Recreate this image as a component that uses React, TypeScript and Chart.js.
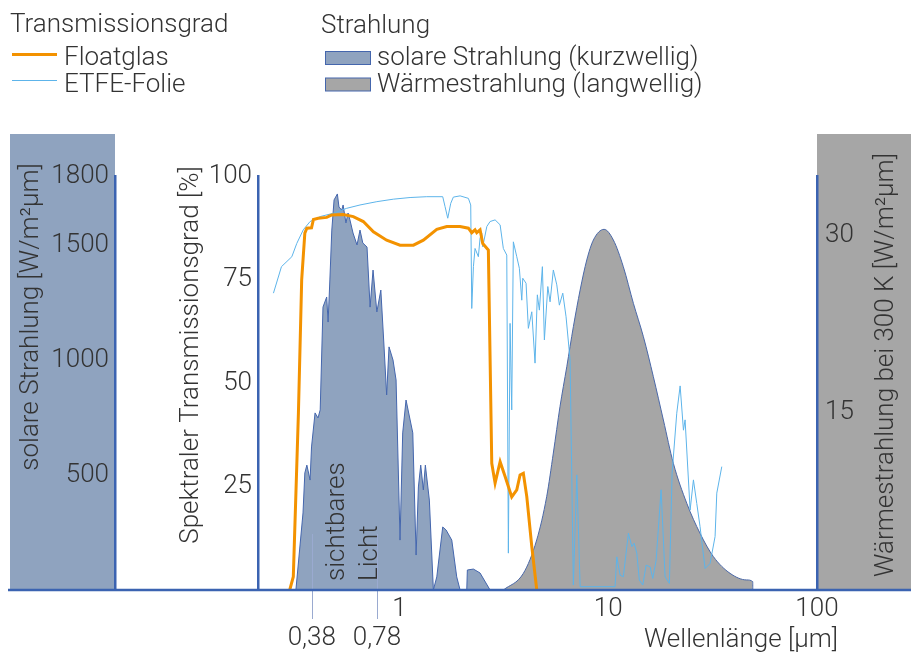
import { useEffect, useRef } from 'react';
import { Chart, registerables } from 'chart.js';

Chart.register(...registerables);

// Wellenlänge in µm, spektraler Transmissionsgrad in %
const floatglasWl = [0.298, 0.310, 0.328, 0.340, 0.352, 0.360, 0.379, 0.387, 0.408, 0.448, 0.474, 0.538, 0.601, 0.671, 0.750, 0.868, 1.006, 1.166, 1.301, 1.509, 1.684, 1.951, 2.138, 2.219, 2.301, 2.345, 2.432, 2.505, 2.665, 2.767, 2.871, 3.034, 3.206, 3.449, 3.646, 3.781, 3.920, 4.073, 4.303, 4.546];
const floatglasT = [0, 3.2, 42.8, 74.9, 86.2, 87.4, 87.5, 89.5, 89.8, 90.0, 90.6, 90.7, 90.2, 89.0, 86.5, 84.5, 83.3, 83.3, 84.5, 87.1, 87.8, 87.8, 87.4, 86.3, 87.0, 86.3, 87.0, 83.7, 82.1, 30.6, 25.8, 31.0, 27.4, 22.5, 24.2, 27.8, 28.2, 22.5, 10.5, 0];

const etfeWl = [0.249, 0.272, 0.305, 0.322, 0.346, 0.373, 0.417, 0.482, 0.559, 0.647, 0.779, 0.934, 1.124, 1.351, 1.611, 1.653, 1.703, 1.760, 1.811, 1.951, 2.138, 2.194, 2.219, 2.260, 2.301, 2.387, 2.432, 2.478, 2.505, 2.620, 2.716, 2.871, 3.034, 3.144, 3.265, 3.323, 3.386, 3.449, 3.511, 3.646, 3.752, 3.853, 3.895, 4.039, 4.143, 4.303, 4.460, 4.575, 4.678, 4.836, 4.944, 5.134, 5.264, 5.457, 5.670, 5.833, 6.056, 6.279, 6.563, 6.807, 7.070, 7.334, 10.78, 10.99, 11.40, 11.81, 12.49, 12.97, 13.30, 13.70, 14.09, 14.64, 15.18, 15.87, 16.34, 16.96, 17.91, 18.72, 19.63, 20.22, 21.29, 22.10, 22.92, 23.34, 24.67, 25.59, 26.55, 27.53, 29.10, 30.74, 32.49, 33.11, 34.99];
const etfeT = [71.7, 78.1, 80.5, 83.7, 87.0, 89.0, 90.2, 91.0, 92.2, 93.0, 93.8, 94.4, 94.8, 95.0, 95.0, 92.6, 89.8, 93.4, 94.9, 95.2, 94.6, 93.0, 68.0, 78.1, 82.5, 80.5, 85.0, 86.2, 82.9, 87.8, 89.0, 89.4, 88.2, 82.5, 80.9, 8.9, 64.4, 43.5, 84.1, 80.5, 77.7, 70.0, 75.3, 74.1, 63.2, 67.2, 54.8, 71.3, 67.6, 78.1, 60.4, 73.3, 69.6, 77.3, 73.7, 68.8, 71.7, 66.0, 55.6, 1.2, 27.8, 0.8, 0.8, 8.0, 3.6, 3.2, 13.7, 10.5, 11.3, 8.9, 2.4, 1.2, 6.0, 5.6, 2.8, 7.2, 24.2, 3.2, 1.6, 28.2, 42.7, 49.3, 38.6, 41.1, 19.3, 26.6, 20.9, 15.3, 5.2, 6.4, 12.9, 23.4, 29.8];

// solare Strahlung in W/(m²µm)
const solarWl = [0.319, 0.345, 0.352, 0.360, 0.373, 0.379, 0.394, 0.407, 0.417, 0.430, 0.448, 0.455, 0.464, 0.474, 0.486, 0.504, 0.513, 0.529, 0.537, 0.554, 0.567, 0.579, 0.599, 0.626, 0.647, 0.667, 0.699, 0.723, 0.747, 0.779, 0.814, 0.844, 0.868, 0.891, 0.931, 0.963, 1.006, 1.036, 1.075, 1.158, 1.201, 1.232, 1.264, 1.301, 1.330, 1.390, 1.453, 1.509, 1.611, 1.672, 1.780, 1.880, 1.951, 2.100, 2.114, 2.260, 2.432, 2.716];
const solarS = [0, 335, 509, 543, 478, 622, 770, 748, 783, 1230, 1274, 1165, 1348, 1565, 1696, 1722, 1665, 1652, 1674, 1596, 1639, 1609, 1552, 1500, 1565, 1509, 1491, 1230, 1391, 1209, 1304, 1052, 848, 1057, 1000, 913, 217, 683, 826, 683, 152, 448, 543, 435, 543, 391, 0, 57, 274, 261, 217, 57, 0, 0, 87, 91, 74, 0];

// Wärmestrahlung bei 300 K in W/(m²µm)
const waermeWl = [3.146, 3.921, 4.542, 5.071, 5.457, 5.873, 6.330, 6.807, 7.334, 7.891, 8.489, 9.551, 10.58, 11.81, 13.20, 14.74, 16.45, 18.37, 20.51, 23.78, 27.53, 31.90, 38.33, 46.09, 49.24, 49.25];
const waermeW = [0, 1.41, 4.23, 7.89, 11.58, 15.5, 18.88, 22.26, 25.36, 27.9, 29.59, 30.49, 29.59, 27.33, 24.23, 21.41, 18.03, 14.37, 10.71, 7.33, 4.79, 2.82, 1.41, 0.85, 0.70, 0];

const xTickValues = [0.38, 0.78, 1, 10, 100];
const xTickLabels: (string | string[])[] = [['', '0,38'], ['', '0,78'], '1', '10', '100'];
const visibleBounds = [0.38, 0.78];
const transTicks = [25, 50, 75, 100];
const solarTicks = [500, 1000, 1500, 1800];
const waermeTicks = [15, 30];

const AXIS = '#3b63b1';
const TEXT = '#333333';
const FLOAT = '#f39200';
const ETFE = '#5db4ea';
const SOLAR_FILL = '#8fa3bf';
const SOLAR_LINE = '#4466ad';
const WAERME_FILL = '#a6a6a6';
const WAERME_LINE = '#4a68a8';
const MARKER = '#9aaad0';
const FAMILY = 'Roboto';
const SIZE = 26;
const CSS_FONT = `300 ${SIZE}px ${FAMILY}`;

const tickFont = { family: FAMILY, size: SIZE, weight: '300' as any, lineHeight: 1.12 };
const plainNumber = (v: any) => String(v);

const pts = (xs: number[], ys: number[]) => xs.map((x, i) => ({ x, y: ys[i] }));

function rotatedText(ctx: CanvasRenderingContext2D, str: string, x: number, y: number, align: CanvasTextAlign) {
  ctx.save();
  ctx.translate(x, y);
  ctx.rotate(-Math.PI / 2);
  ctx.textAlign = align;
  ctx.textBaseline = 'alphabetic';
  ctx.fillText(str, 0, 0);
  ctx.restore();
}

const decor = {
  id: 'decor',
  beforeDraw(chart: any) {
    const { ctx, chartArea, scales } = chart;
    const top = chartArea.top - 42;
    ctx.save();
    const s = scales.ySolar;
    ctx.fillStyle = SOLAR_FILL;
    ctx.fillRect(s.left, top, s.right - s.left, chartArea.bottom - top);
    const w = scales.yW;
    ctx.fillStyle = WAERME_FILL;
    ctx.fillRect(w.left, top, w.right - w.left, chartArea.bottom - top);
    ctx.restore();
  },
  afterDatasetsDraw(chart: any) {
    const { ctx, chartArea, scales } = chart;
    const bottom = chartArea.bottom;
    ctx.save();
    // Grenzen des sichtbaren Lichts
    ctx.strokeStyle = MARKER;
    ctx.lineWidth = 1;
    visibleBounds.forEach((v) => {
      const px = Math.round(scales.x.getPixelForValue(v)) + 0.5;
      ctx.beginPath();
      ctx.moveTo(px, bottom - 56);
      ctx.lineTo(px, bottom + 29);
      ctx.stroke();
    });
    // durchgehende Grundlinie
    ctx.strokeStyle = AXIS;
    ctx.lineWidth = 2.5;
    ctx.beginPath();
    ctx.moveTo(8, bottom);
    ctx.lineTo(chart.width, bottom);
    ctx.stroke();

    ctx.fillStyle = TEXT;
    ctx.font = CSS_FONT;
    rotatedText(ctx, 'sichtbares', 343.5, 581, 'left');
    rotatedText(ctx, 'Licht', 376.5, 581, 'left');
    ctx.restore();
  },
  afterDraw(chart: any) {
    const { ctx } = chart;
    const ds = chart.data.datasets;
    ctx.save();
    ctx.font = CSS_FONT;
    ctx.fillStyle = TEXT;
    ctx.textAlign = 'left';
    ctx.textBaseline = 'alphabetic';

    // Legende: Transmissionsgrad
    ctx.fillText('Transmissionsgrad', 10, 31.5);
    ctx.strokeStyle = FLOAT;
    ctx.lineWidth = 3;
    ctx.beginPath();
    ctx.moveTo(12, 54.5);
    ctx.lineTo(57, 54.5);
    ctx.stroke();
    ctx.fillText(ds[0].label, 64, 65);
    ctx.strokeStyle = ETFE;
    ctx.lineWidth = 1;
    ctx.beginPath();
    ctx.moveTo(12, 80.5);
    ctx.lineTo(57, 80.5);
    ctx.stroke();
    ctx.fillText(ds[1].label, 64, 92);

    // Legende: Strahlung
    ctx.fillText('Strahlung', 321, 33);
    ctx.lineWidth = 1;
    ctx.strokeStyle = SOLAR_LINE;
    ctx.fillStyle = SOLAR_FILL;
    ctx.fillRect(325.5, 51.5, 45, 13);
    ctx.strokeRect(325.5, 51.5, 45, 13);
    ctx.fillStyle = WAERME_FILL;
    ctx.fillRect(325.5, 78, 45, 13);
    ctx.strokeRect(325.5, 78, 45, 13);
    ctx.fillStyle = TEXT;
    ctx.fillText(ds[2].label, 377, 65);
    ctx.fillText(ds[3].label, 377, 92);

    // Achsentitel
    rotatedText(ctx, 'solare Strahlung [W/m²µm]', 38, 317, 'center');
    rotatedText(ctx, 'Spektraler Transmissionsgrad [%]', 198, 355, 'center');
    rotatedText(ctx, 'Wärmestrahlung bei 300 K [W/m²µm]', 893, 365, 'center');
    ctx.textAlign = 'right';
    ctx.fillText('Wellenlänge [µm]', 838, 647);
    ctx.restore();
  },
};

export default function App() {
  const ref = useRef<HTMLCanvasElement | null>(null);

  useEffect(() => {
    if (!ref.current) return;
    const chart = new Chart(ref.current, {
      type: 'line',
      data: {
        datasets: [
          {
            label: 'Floatglas',
            data: pts(floatglasWl, floatglasT),
            yAxisID: 'yT',
            borderColor: FLOAT,
            borderWidth: 3,
            pointRadius: 0,
            fill: false,
            tension: 0,
          },
          {
            label: 'ETFE-Folie',
            data: pts(etfeWl, etfeT),
            yAxisID: 'yT',
            borderColor: ETFE,
            borderWidth: 1,
            pointRadius: 0,
            fill: false,
            tension: 0,
          },
          {
            label: 'solare Strahlung (kurzwellig)',
            data: pts(solarWl, solarS),
            yAxisID: 'ySolar',
            borderColor: SOLAR_LINE,
            backgroundColor: SOLAR_FILL,
            borderWidth: 1,
            pointRadius: 0,
            fill: 'origin',
            tension: 0,
          },
          {
            label: 'Wärmestrahlung (langwellig)',
            data: pts(waermeWl, waermeW),
            yAxisID: 'yW',
            borderColor: WAERME_LINE,
            backgroundColor: WAERME_FILL,
            borderWidth: 1,
            pointRadius: 0,
            fill: 'origin',
            cubicInterpolationMode: 'monotone',
          },
        ],
      },
      options: {
        responsive: false,
        animation: false,
        devicePixelRatio: 1,
        events: [],
        layout: { padding: { left: 10, top: 176, right: 0, bottom: 0 } },
        plugins: { legend: { display: false }, tooltip: { enabled: false } },
        scales: {
          x: {
            type: 'logarithmic',
            min: 0.21,
            max: 100,
            position: 'bottom',
            afterBuildTicks: (s: any) => {
              s.ticks = xTickValues.map((v) => ({ value: v }));
            },
            afterFit: (s: any) => {
              s.height = 65;
            },
            ticks: {
              autoSkip: false,
              maxRotation: 0,
              minRotation: 0,
              padding: 4.5,
              color: TEXT,
              font: tickFont,
              callback: (_v: any, i: number) => xTickLabels[i],
            },
            grid: { display: false, drawTicks: false },
            border: { display: false },
          },
          ySolar: {
            type: 'linear',
            position: 'left',
            weight: 1,
            min: 0,
            max: 1800,
            afterBuildTicks: (s: any) => {
              s.ticks = solarTicks.map((v) => ({ value: v }));
            },
            afterFit: (s: any) => {
              s.width = 105;
            },
            ticks: { padding: 6, color: TEXT, font: tickFont, callback: plainNumber },
            grid: { display: false, drawTicks: false },
            border: { display: true, color: AXIS, width: 2.5 },
          },
          yT: {
            type: 'linear',
            position: 'left',
            weight: 0,
            min: 0,
            max: 100,
            afterBuildTicks: (s: any) => {
              s.ticks = transTicks.map((v) => ({ value: v }));
            },
            afterFit: (s: any) => {
              s.width = 143;
            },
            ticks: { padding: 6, color: TEXT, font: tickFont, callback: plainNumber },
            grid: { display: false, drawTicks: false },
            border: { display: true, color: AXIS, width: 2.5 },
          },
          yW: {
            type: 'linear',
            position: 'right',
            min: 0,
            max: 35,
            afterBuildTicks: (s: any) => {
              s.ticks = waermeTicks.map((v) => ({ value: v }));
            },
            afterFit: (s: any) => {
              s.width = 94;
            },
            ticks: { padding: 8, color: TEXT, font: tickFont, callback: plainNumber },
            grid: { display: false, drawTicks: false },
            border: { display: true, color: AXIS, width: 2.5 },
          },
        },
      } as any,
      plugins: [decor],
    });
    return () => chart.destroy();
  }, []);

  return (
    <div style={{ position: 'absolute', left: 0, top: 0, width: 911, height: 655, background: '#ffffff' }}>
      <canvas ref={ref} width={911} height={655} style={{ display: 'block' }} />
    </div>
  );
}
